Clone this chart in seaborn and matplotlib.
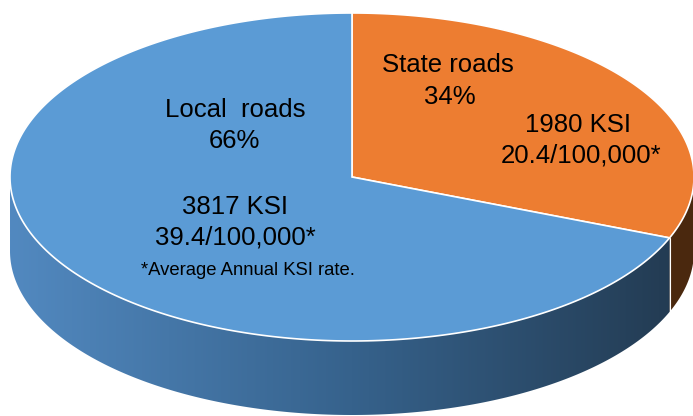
import numpy as np
import matplotlib
matplotlib.use("Agg")
import matplotlib.pyplot as plt
import seaborn as sns
from matplotlib.patches import Polygon
from matplotlib.colors import LinearSegmentedColormap

# data
categories = ["Local roads", "State roads"]
shares = [66, 34]
ksi = [3817, 1980]
rates = ["39.4/100,000*", "20.4/100,000*"]
footnote = "*Average Annual KSI rate."

sns.set_theme(style="white")
plt.rcParams['font.family'] = ['Liberation Sans', 'DejaVu Sans']

top_cols = ["#5b9bd5", "#ed7d31"]
side_cols = [["#5289c0", "#36628c", "#22394f"], ["#6a3b16", "#5a3212", "#4a280e"]]

fig = plt.figure(figsize=(6.93, 4.16), dpi=100)
ax = fig.add_axes([0, 0, 1, 1])
ax.axis("off")

# pie geometry (pixel-like units, y down)
cx, cy, a, b, depth = 352, 177, 342, 164, 74
k = 0.63  # crude perspective warp


def pt(theta_deg, dy=0):
    t = np.radians(theta_deg)
    vx, vy = np.cos(t), k * np.sin(t)
    n = np.hypot(vx, vy)
    return cx + a * vx / n, cy - b * vy / n + dy


# wedges clockwise from 12 o'clock, state roads first
order = [1, 0]
start = 90.0
spans = {}
for i in order:
    sweep = 360.0 * shares[i] / sum(shares)
    spans[i] = (start, start - sweep)
    start -= sweep

# side walls (front half only)
for i in order:
    t0, t1 = spans[i]
    th = np.linspace(t0, t1, 400)
    xs, ys = pt(th)
    front = ys >= cy - 0.01
    if front.sum() < 2:
        continue
    xs, ys = xs[front], ys[front]
    verts = list(zip(xs, ys)) + list(zip(xs[::-1], ys[::-1] + depth))
    poly = Polygon(verts, closed=True, facecolor="none", edgecolor="none")
    ax.add_patch(poly)
    cmap = LinearSegmentedColormap.from_list("side%d" % i, side_cols[i])
    grad = np.linspace(0, 1, 256)[None, :]
    im = ax.imshow(grad, extent=[cx - a, cx + a, cy + b + depth, cy - b],
                   aspect="auto", cmap=cmap, zorder=1, interpolation="bilinear")
    im.set_clip_path(poly)
    ax.plot([xs[0], xs[0]], [ys[0], ys[0] + depth], color="white", lw=0.8, zorder=1.5)

# top faces
for i in order:
    t0, t1 = spans[i]
    th = np.linspace(t0, t1, 400)
    xs, ys = pt(th)
    verts = [(cx, cy)] + list(zip(xs, ys))
    ax.add_patch(Polygon(verts, closed=True, facecolor=top_cols[i],
                         edgecolor="white", lw=1.2, zorder=2))

fs = 18.5
tkw = dict(ha="center", va="baseline", color="black", zorder=3)
ax.text(235, 117, categories[0].replace(" ", "  "), fontsize=fs, **tkw)
ax.text(234, 148, "%d%%" % shares[0], fontsize=fs, **tkw)
ax.text(235, 214, "%d KSI" % ksi[0], fontsize=fs, **tkw)
ax.text(235, 245, rates[0], fontsize=fs, **tkw)
ax.text(248, 275, footnote, fontsize=13.3, **tkw)

ax.text(448, 72, categories[1], fontsize=fs, **tkw)
ax.text(450, 104, "%d%%" % shares[1], fontsize=fs, **tkw)
ax.text(578, 132, "%d KSI" % ksi[1], fontsize=fs, **tkw)
ax.text(581, 163, rates[1], fontsize=fs, **tkw)

ax.set_xlim(0, 693)
ax.set_ylim(416, 0)
fig.savefig("out.png", dpi=100)
